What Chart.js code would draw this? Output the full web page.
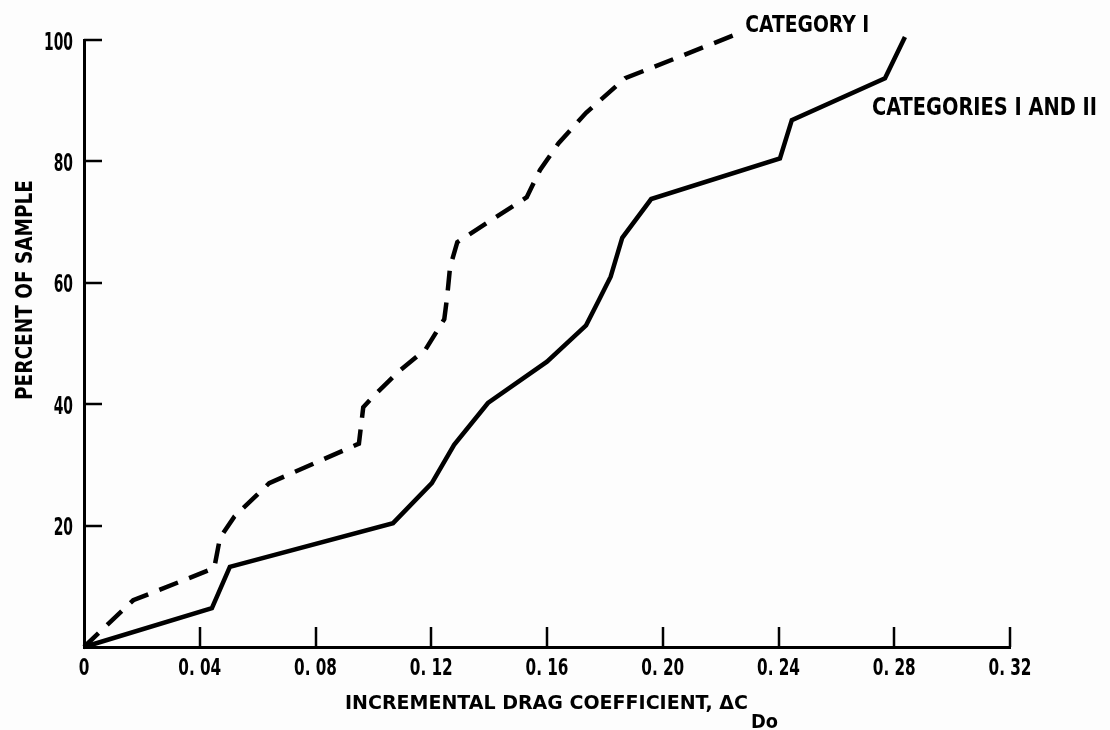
<!DOCTYPE html>
<html>
<head>
<meta charset="utf-8">
<script src="https://cdn.jsdelivr.net/npm/chart.js@4/dist/chart.umd.min.js"></script>
<style>
  html, body { margin: 0; padding: 0; background: #fdfdfd; }
  #wrap { width: 1110px; height: 730px; }
</style>
</head>
<body>
<div id="wrap"><canvas id="c" width="1110" height="730"></canvas></div>
<script>
// ---- data ----
const xTickValues = [0, 0.04, 0.08, 0.12, 0.16, 0.20, 0.24, 0.28, 0.32];
const xTickLabels = ["0", "0. 04", "0. 08", "0. 12", "0. 16", "0. 20", "0. 24", "0. 28", "0. 32"];
const yTickValues = [0, 20, 40, 60, 80, 100];
const yTickLabels = ["", "20", "40", "60", "80", "100"];

const cat1X = [0, 0.017, 0.045, 0.047, 0.052, 0.064, 0.095, 0.0965, 0.100, 0.109, 0.118, 0.1245, 0.1255, 0.1265, 0.129, 0.153, 0.1576, 0.164, 0.1735, 0.187, 0.2257];
const cat1Y = [0, 7.7, 13.0, 18.0, 21.5, 27.0, 33.5, 39.5, 41.3, 45.5, 49.0, 54.0, 57.7, 62.6, 66.7, 74.1, 78.6, 83.0, 88.0, 93.7, 101.0];

const allX = [0, 0.0442, 0.0504, 0.1068, 0.1202, 0.1279, 0.1396, 0.160, 0.1735, 0.178, 0.182, 0.186, 0.196, 0.2405, 0.2446, 0.2768, 0.2837];
const allY = [0, 6.4, 13.2, 20.4, 27.0, 33.3, 40.2, 47.0, 53.0, 57.2, 61.0, 67.4, 73.8, 80.5, 86.8, 93.7, 100.5];

const seriesNames = ["CATEGORY I", "CATEGORIES I AND II"];
const xTitle = "INCREMENTAL DRAG COEFFICIENT, \u0394C";
const xTitleSub = "Do";
const yTitle = "PERCENT OF SAMPLE";

const FONT = '"DejaVu Sans Condensed", "DejaVu Sans", sans-serif';
const CAP = 0.73;

// draw text with given cap height; horizontal scale sx (or fit to width)
function drawText(ctx, text, x, baseY, cap, opts) {
  const size = cap / CAP;
  ctx.save();
  ctx.font = 'bold ' + size.toFixed(2) + 'px ' + FONT;
  ctx.letterSpacing = '0px';
  ctx.textBaseline = 'alphabetic';
  ctx.textAlign = 'left';
  const nat = ctx.measureText(text).width;
  const sx = opts.width ? opts.width / nat : opts.sx;
  const w = nat * sx;
  let left = x;
  if (opts.align === 'center') left = x - w / 2;
  else if (opts.align === 'right') left = x - w;
  ctx.translate(left, baseY);
  ctx.scale(sx, 1);
  ctx.fillText(text, 0, 0);
  ctx.restore();
  return w;
}
function scaleFor(ctx, sample, cap, width) {
  ctx.save();
  ctx.font = 'bold ' + (cap / CAP).toFixed(2) + 'px ' + FONT;
  ctx.letterSpacing = '0px';
  const w = ctx.measureText(sample).width;
  ctx.restore();
  return width / w;
}

const toPts = (xs, ys) => xs.map((x, i) => ({ x: x, y: ys[i] }));

const decor = {
  id: 'decor',
  afterDraw(chart) {
    const ctx = chart.ctx;
    const xs = chart.scales.x, ys = chart.scales.y;
    const ca = chart.chartArea;
    ctx.save();
    ctx.strokeStyle = '#000';
    ctx.fillStyle = '#000';
    ctx.lineWidth = 2.5;
    ctx.lineCap = 'butt';
    // inward tick marks
    xTickValues.forEach(v => {
      if (v === 0) return;
      const px = Math.round(xs.getPixelForValue(v));
      ctx.beginPath();
      ctx.moveTo(px, ca.bottom);
      ctx.lineTo(px, ca.bottom - 20);
      ctx.stroke();
    });
    yTickValues.forEach(v => {
      if (v === 0) return;
      const py = Math.round(ys.getPixelForValue(v));
      ctx.beginPath();
      ctx.moveTo(ca.left, py);
      ctx.lineTo(ca.left + 18, py);
      ctx.stroke();
    });

    // tick labels
    const ySx = scaleFor(ctx, "100", 18, 29);
    yTickValues.forEach((v, i) => {
      if (!yTickLabels[i]) return;
      const py = ys.getPixelForValue(v);
      drawText(ctx, yTickLabels[i], ca.left - 11, py + 9.5, 18, { sx: ySx, align: 'right' });
    });
    const xSx = scaleFor(ctx, "0. 04", 17, 43);
    xTickValues.forEach((v, i) => {
      const px = xs.getPixelForValue(v);
      drawText(ctx, xTickLabels[i], px, ca.bottom + 28, 17, { sx: xSx, align: 'center' });
    });

    // series labels
    drawText(ctx, seriesNames[0], xs.getPixelForValue(0.2285), ys.getPixelForValue(101.3) - 0, 17, { width: 124 });
    drawText(ctx, seriesNames[1], xs.getPixelForValue(0.2723), ys.getPixelForValue(87.6), 18, { width: 225 });

    // x title
    const w = drawText(ctx, xTitle, 345, 709, 14.5, { width: 403 });
    drawText(ctx, xTitleSub, 345 + w + 3, 728, 14.5, { width: 27 });

    // y title (rotated)
    ctx.save();
    ctx.translate(32, 290);
    ctx.rotate(-Math.PI / 2);
    drawText(ctx, yTitle, 0, 0, 17, { width: 220, align: 'center' });
    ctx.restore();

    ctx.restore();
  }
};

new Chart(document.getElementById('c'), {
  type: 'line',
  data: {
    datasets: [
      {
        label: seriesNames[0],
        data: toPts(cat1X, cat1Y),
        borderColor: '#000',
        borderWidth: 4.5,
        borderDash: [20, 12],
        pointRadius: 0,
        tension: 0,
        fill: false,
        clip: false
      },
      {
        label: seriesNames[1],
        data: toPts(allX, allY),
        borderColor: '#000',
        borderWidth: 4.5,
        pointRadius: 0,
        tension: 0,
        fill: false,
        clip: false
      }
    ]
  },
  options: {
    responsive: false,
    animation: false,
    devicePixelRatio: 1,
    layout: { padding: { top: 40, right: 100, left: 0, bottom: 0 } },
    plugins: { legend: { display: false }, tooltip: { enabled: false } },
    scales: {
      x: {
        type: 'linear',
        min: 0, max: 0.32,
        afterBuildTicks: s => { s.ticks = xTickValues.map(v => ({ value: v })); },
        afterFit: s => { s.height = 83; },
        grid: { display: false, drawTicks: false },
        border: { display: true, color: '#000', width: 3 },
        ticks: { display: false }
      },
      y: {
        type: 'linear',
        min: 0, max: 100,
        afterBuildTicks: s => { s.ticks = yTickValues.map(v => ({ value: v })); },
        afterFit: s => { s.width = 84; },
        grid: { display: false, drawTicks: false },
        border: { display: true, color: '#000', width: 3 },
        ticks: { display: false }
      }
    }
  },
  plugins: [decor]
});
</script>
</body>
</html>
